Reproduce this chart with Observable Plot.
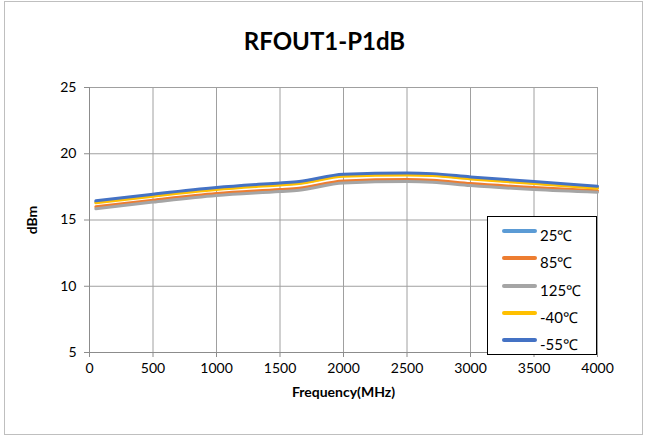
<!DOCTYPE html>
<html>
<head>
<meta charset="utf-8">
<script src="https://cdn.jsdelivr.net/npm/d3@7"></script>
<script src="https://cdn.jsdelivr.net/npm/@observablehq/plot@0.6"></script>
<style>
  html, body { margin: 0; padding: 0; background: #fff; }
  #wrap { position: relative; width: 649px; height: 441px; font-family: Lato, "Open Sans", sans-serif; }
  #frame { position: absolute; left: 4px; top: 1px; width: 639px; height: 434px; border: 1px solid #bfbfbf; box-sizing: border-box; }
  #title { position: absolute; left: 0; width: 649px; top: 26px; text-align: center; font-size: 24px; line-height: 30px; font-weight: bold; color: #000; }
  #legend { position: absolute; left: 487px; top: 216px; width: 110px; height: 139px; border: 1.5px solid #000; box-sizing: border-box; background: #fff; }
  .swatch { position: absolute; left: 14px; width: 35px; height: 4px; border-radius: 2px; }
  .lbl { position: absolute; left: 52px; font-size: 15px; color: #000; line-height: 18px; white-space: nowrap; }
  g[aria-label="y-axis label"] text, g[aria-label="x-axis label"] text { font-weight: bold; font-size: 14px; }
  svg { position: absolute; left: 0; top: 0; }
</style>
</head>
<body>
<div id="wrap">
  <div id="frame"></div>
  <div id="title">RFOUT1-P1dB</div>
</div>
<script>
const freq = [50, 500, 1000, 1500, 1650, 2000, 2500, 2700, 3000, 3500, 4000];
const seriesNames = ["25℃", "85℃", "125℃", "-40℃", "-55℃"];
const seriesColors = ["#5B9BD5", "#ED7D31", "#A5A5A5", "#FFC000", "#4472C4"];
const t25  = [16.35, 16.85, 17.35, 17.70, 17.80, 18.35, 18.45, 18.40, 18.15, 17.80, 17.45];
const t85  = [16.00, 16.50, 17.00, 17.30, 17.40, 17.95, 18.05, 18.00, 17.75, 17.45, 17.20];
const t125 = [15.85, 16.35, 16.85, 17.15, 17.25, 17.80, 17.90, 17.85, 17.60, 17.30, 17.10];
const tm40 = [16.30, 16.80, 17.30, 17.65, 17.75, 18.30, 18.40, 18.35, 18.10, 17.75, 17.40];
const tm55 = [16.45, 16.95, 17.45, 17.80, 17.90, 18.45, 18.55, 18.50, 18.25, 17.90, 17.55];
const xTicks = [0, 500, 1000, 1500, 2000, 2500, 3000, 3500, 4000];
const yTicks = [5, 10, 15, 20, 25];

const allSeries = [t25, t85, t125, tm40, tm55];
const data = [];
allSeries.forEach((vals, si) => {
  vals.forEach((v, i) => data.push({series: seriesNames[si], f: freq[i], p: v}));
});

const plot = Plot.plot({
  width: 649,
  height: 441,
  marginLeft: 89,
  marginRight: 52,
  marginTop: 87,
  marginBottom: 89,
  style: { fontFamily: "Lato, 'Open Sans', sans-serif", fontSize: "14px", color: "#000", background: "transparent" },
  x: { domain: [0, 4000], ticks: xTicks },
  y: { domain: [5, 25], ticks: yTicks },
  color: { domain: seriesNames, range: seriesColors },
  marks: [
    Plot.gridX(xTicks, { stroke: "#a0a0a0", strokeOpacity: 1 }),
    Plot.gridY(yTicks, { stroke: "#a0a0a0", strokeOpacity: 1 }),
    Plot.axisX({ ticks: xTicks, tickFormat: d => String(d), tickSize: 5, tickPadding: 6, stroke: "#8c8c8c", label: "Frequency(MHz)", labelAnchor: "center", labelOffset: 44, labelArrow: "none", fontSize: 14 }),
    Plot.axisY({ ticks: yTicks, tickFormat: d => String(d), tickSize: 5, tickPadding: 8, stroke: "#8c8c8c", label: "dBm", labelAnchor: "center", labelOffset: 62, labelArrow: "none", fontSize: 14 }),
    Plot.ruleX([0], { stroke: "#8c8c8c" }),
    Plot.ruleY([5], { stroke: "#8c8c8c" }),
    Plot.line(data, { x: "f", y: "p", z: "series", stroke: "series", strokeWidth: 3, curve: "monotone-x" })
  ]
});
document.getElementById("wrap").appendChild(plot);

const legend = document.createElement("div");
legend.id = "legend";
seriesNames.forEach((n, i) => {
  const sw = document.createElement("div");
  sw.className = "swatch";
  sw.style.background = seriesColors[i];
  sw.style.top = (12 + i * 27.3) + "px";
  const lb = document.createElement("div");
  lb.className = "lbl";
  lb.textContent = n;
  lb.style.top = (9 + i * 27.3) + "px";
  legend.appendChild(sw);
  legend.appendChild(lb);
});
document.getElementById("wrap").appendChild(legend);
</script>
</body>
</html>
